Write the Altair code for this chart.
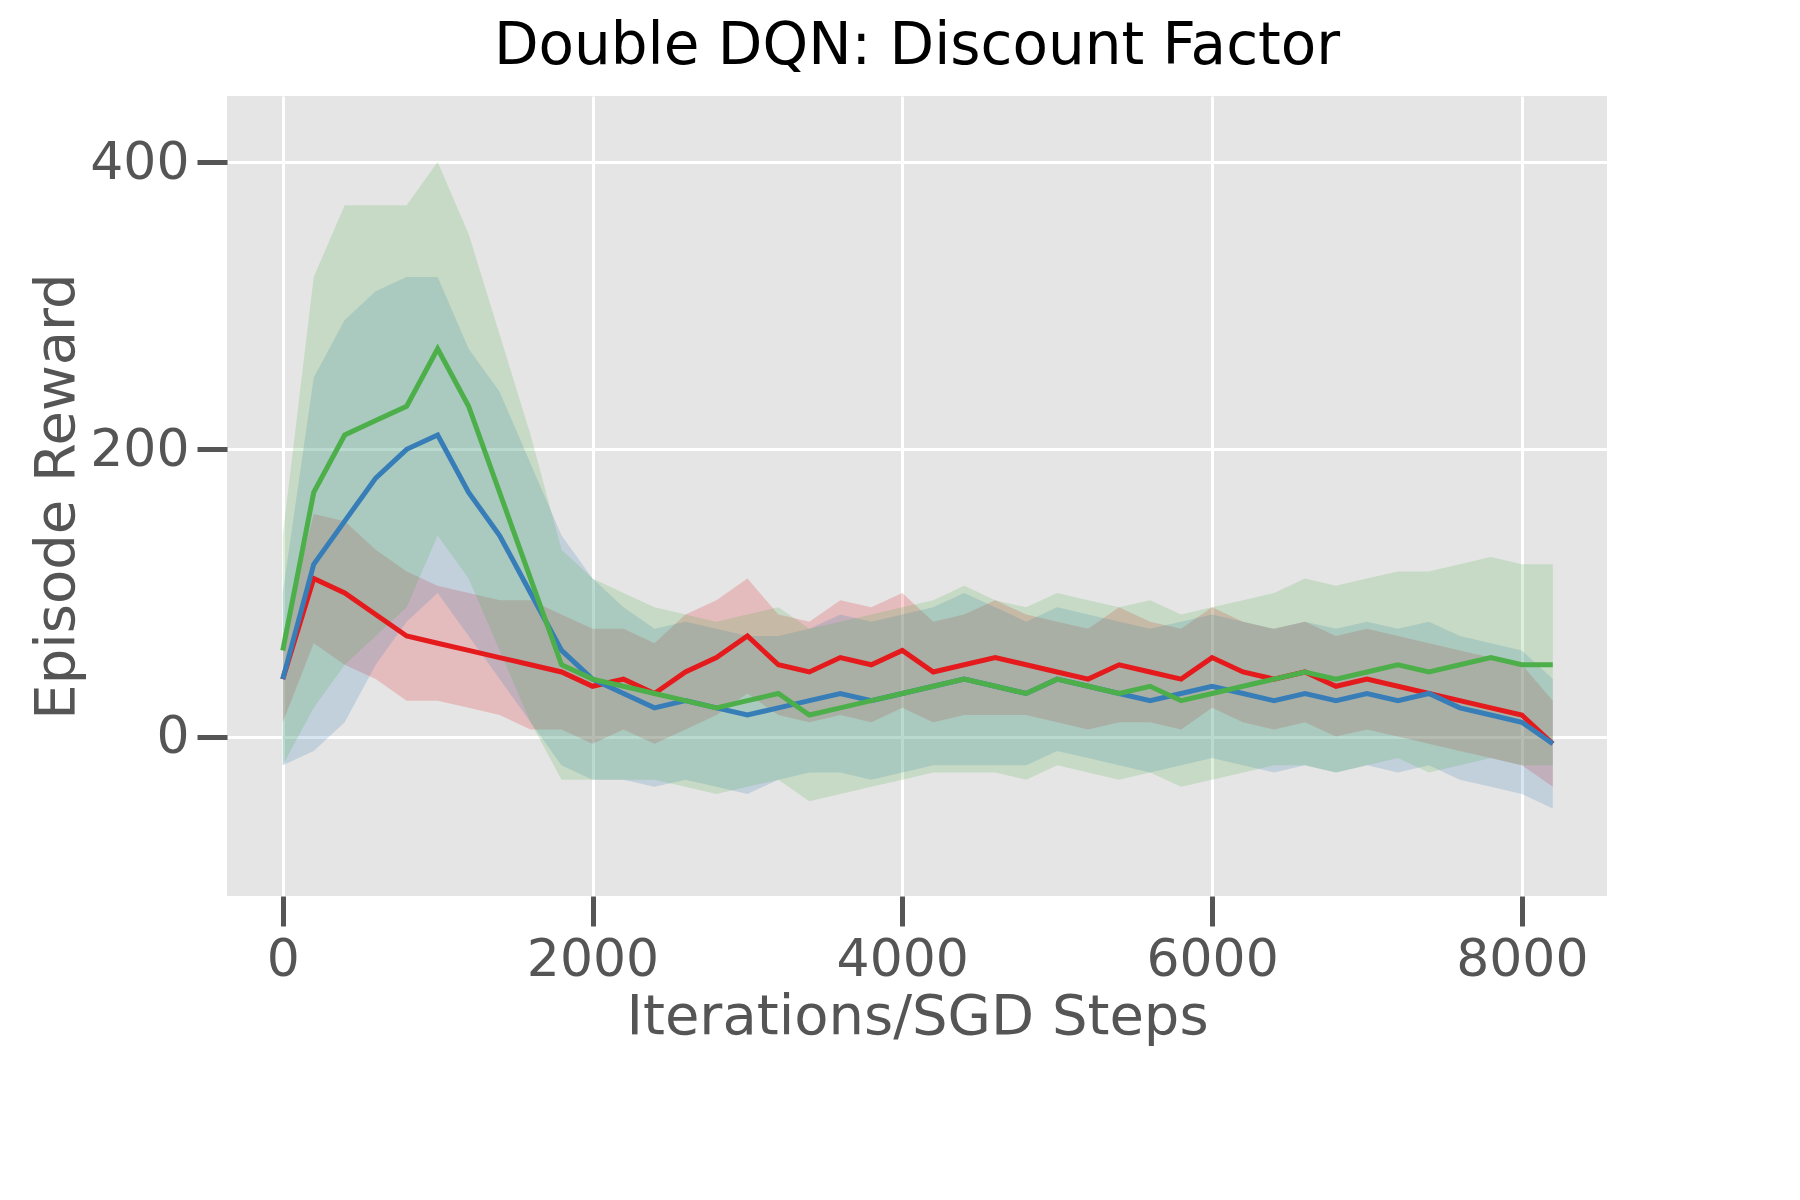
import altair as alt
import pandas as pd

steps = list(range(0, 8201, 200))

red_mean = [40, 110, 100, 85, 70, 65, 60, 55, 50, 45, 35, 40, 30, 45, 55, 70, 50, 45, 55, 50,
            60, 45, 50, 55, 50, 45, 40, 50, 45, 40, 55, 45, 40, 45, 35, 40, 35, 30, 25, 20, 15, -5]
blue_mean = [40, 120, 150, 180, 200, 210, 170, 140, 100, 60, 40, 30, 20, 25, 20, 15, 20, 25, 30, 25,
             30, 35, 40, 35, 30, 40, 35, 30, 25, 30, 35, 30, 25, 30, 25, 30, 25, 30, 20, 15, 10, -5]
green_mean = [60, 170, 210, 220, 230, 270, 230, 170, 110, 50, 40, 35, 30, 25, 20, 25, 30, 15, 20, 25,
              30, 35, 40, 35, 30, 40, 35, 30, 35, 25, 30, 35, 40, 45, 40, 45, 50, 45, 50, 55, 50, 50]

red_sd = [30, 45, 50, 45, 45, 40, 40, 40, 45, 40, 40, 35, 35, 40, 40, 40, 35, 35, 40, 40,
          40, 35, 35, 40, 35, 35, 35, 40, 35, 35, 35, 35, 35, 35, 35, 35, 35, 35, 35, 35, 35, 30]
blue_sd = [60, 130, 140, 130, 120, 110, 100, 100, 90, 80, 70, 60, 55, 55, 55, 55, 50, 50, 55, 55,
           55, 55, 60, 55, 50, 50, 50, 50, 50, 50, 50, 50, 50, 50, 50, 50, 50, 50, 50, 50, 50, 45]
green_sd = [80, 150, 160, 150, 140, 130, 120, 110, 100, 80, 70, 65, 60, 60, 60, 60, 60, 60, 60, 60,
            60, 60, 65, 60, 60, 60, 60, 60, 60, 60, 60, 60, 60, 65, 65, 65, 65, 70, 70, 70, 70, 70]

labels = ["γ = 0.9", "γ = 0.95", "γ = 0.99"]
colors = ["#e41a1c", "#377eb8", "#4daf4a"]

rows = []
for lab, mean, sd in zip(labels, [red_mean, blue_mean, green_mean], [red_sd, blue_sd, green_sd]):
    for s, m, d in zip(steps, mean, sd):
        rows.append({"step": s, "reward": m, "lo": m - d, "hi": m + d, "gamma": lab})
df = pd.DataFrame(rows)

scale = alt.Scale(domain=labels, range=colors)
legend = alt.Legend(title=None, orient="top-right", symbolType="stroke",
                    symbolStrokeWidth=5, symbolSize=1400, labelFontSize=32,
                    fillColor="#e5e5e5", strokeColor="#cccccc", padding=14,
                    rowPadding=12, labelFont="DejaVu Sans", labelColor="black")

x = alt.X("step:Q", scale=alt.Scale(domain=[-360, 8550], nice=False, zero=False),
          axis=alt.Axis(values=[0, 2000, 4000, 6000, 8000], format="d",
                        title="Iterations/SGD Steps"))
y = alt.Y("reward:Q", scale=alt.Scale(domain=[-111, 446], nice=False),
          axis=alt.Axis(values=[0, 200, 400], title="Episode Reward"))

band = alt.Chart(df).mark_area(opacity=0.2).encode(
    x=x, y="lo:Q", y2="hi:Q", color=alt.Color("gamma:N", scale=scale, legend=None))
line = alt.Chart(df).mark_line(strokeWidth=5).encode(
    x=x, y=y, color=alt.Color("gamma:N", scale=scale, legend=legend))

chart = alt.layer(band, line).properties(
    width=1380, height=800,
    padding={"left": 20, "top": 10, "right": 20, "bottom": 10},
    title=alt.TitleParams("Double DQN: Discount Factor", fontSize=58, font="DejaVu Sans",
                          fontWeight="normal", color="black", offset=20),
).configure_view(fill="#e5e5e5", stroke=None).configure_axis(
    grid=True, gridColor="white", gridWidth=3, domain=False,
    tickColor="#555555", tickSize=30, tickWidth=5, labelFontSize=52, labelColor="#555555",
    labelFont="DejaVu Sans", titleFont="DejaVu Sans", titleFontSize=56, titleColor="#555555",
    titleFontWeight="normal", labelPadding=8,
)

chart.save("out.html", embed_options={"renderer": "svg", "actions": False})
